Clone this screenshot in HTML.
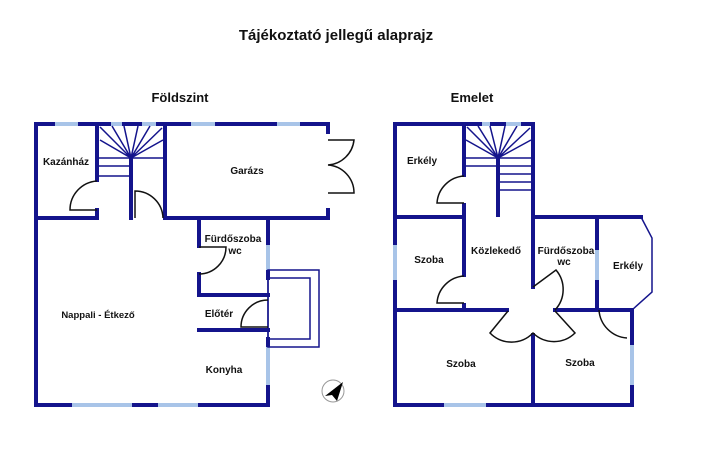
<!DOCTYPE html>
<html><head><meta charset="utf-8"><style>
html,body{margin:0;padding:0;background:#fff;width:704px;height:450px;overflow:hidden}
svg{display:block}
text{font-family:"Liberation Sans",sans-serif;font-weight:bold;fill:#111}
</style></head><body>
<svg width="704" height="450" viewBox="0 0 704 450">
<text x="336" y="40" font-size="15" text-anchor="middle">Tájékoztató jellegű alaprajz</text>
<text x="180" y="102" font-size="13" text-anchor="middle">Földszint</text>
<text x="472" y="102" font-size="13" text-anchor="middle">Emelet</text>

<!-- LEFT PLAN -->
<g stroke="#14148c" stroke-width="4" fill="none" stroke-linecap="square">
<path d="M36 124 H328 V132 M328 210 V218 H165 M36 124 V405 H268 V385 M268 347 V339 M268 278 V270 M268 245 V218"/>
<path d="M36 218 H95 M131 218 V158 M165 124 V218 M97 124 V180 M97 210 V218"/>
<path d="M199 218 V246 M199 274 V295 H268 M199 330 H268"/>
</g>
<g stroke="#a8c4e8" stroke-width="4">
<line x1="55" y1="124" x2="78" y2="124"/><line x1="111" y1="124" x2="122" y2="124"/>
<line x1="142" y1="124" x2="156" y2="124"/><line x1="191" y1="124" x2="215" y2="124"/>
<line x1="277" y1="124" x2="300" y2="124"/>
<line x1="268" y1="245" x2="268" y2="270"/><line x1="268" y1="347" x2="268" y2="385"/>
<line x1="72" y1="405" x2="132" y2="405"/><line x1="158" y1="405" x2="198" y2="405"/>
</g>
<g stroke="#14148c" stroke-width="1.5" fill="none">
<path d="M131 158 L100 127 M131 158 L112 126 M131 158 L124 126 M131 158 L138 126 M131 158 L150 126 M131 158 L162 128 M131 158 L163 140 M131 158 L100 140"/>
<path d="M97 158 H165 M97 166 H131 M97 176 H131"/>
<rect x="268" y="270" width="51" height="77"/><rect x="268" y="278" width="42" height="61"/>
</g>
<g stroke="#111" stroke-width="1.5" fill="none">
<path d="M97 181 A29 29 0 0 0 70 210 H97"/>
<path d="M135 218 V191 A28 28 0 0 1 163 218"/>
<path d="M199 247 H226 A27 27 0 0 1 199 274"/>
<path d="M268 300 A27 27 0 0 0 241 327 H268"/>
<path d="M328 140 H354 A28 28 0 0 1 328 165 A28 28 0 0 1 354 193 H328"/>
</g>
<text x="66" y="165" font-size="10" text-anchor="middle">Kazánház</text>
<text x="247" y="174" font-size="10" text-anchor="middle">Garázs</text>
<text x="233" y="242" font-size="10" text-anchor="middle">Fürdőszoba</text>
<text x="235" y="254" font-size="10" text-anchor="middle">wc</text>
<text x="98" y="318" font-size="9.5" text-anchor="middle">Nappali - Étkező</text>
<text x="219" y="317" font-size="10" text-anchor="middle">Előtér</text>
<text x="224" y="373" font-size="10" text-anchor="middle">Konyha</text>
<circle cx="333" cy="391" r="11" fill="none" stroke="#999" stroke-width="1"/>
<path d="M325 396 L343 382 L337 401 L332 395 Z" fill="#000"/>

<!-- RIGHT PLAN -->
<g stroke="#14148c" stroke-width="4" fill="none" stroke-linecap="square">
<path d="M395 124 H533 V217 H641 M395 124 V405 H632 V385 M632 345 V310"/>
<path d="M395 217 H464 M464 124 V175 M464 205 V275 M464 305 V310"/>
<path d="M395 310 H507 M555 310 H632 M533 217 V287 M533 335 V405 M597 217 V310"/>
<path d="M498 158 V215"/>
</g>
<g stroke="#14148c" stroke-width="1.5" fill="none">
<path d="M641 217 L652 238 V292 L632 310"/>
<path d="M498 158 L467 127 M498 158 L478 126 M498 158 L490 126 M498 158 L505 126 M498 158 L517 126 M498 158 L530 128 M498 158 L531 140 M498 158 L466 140"/>
<path d="M464 158 H533 M464 166 H533 M498 174 H533 M498 182 H533 M498 190 H533"/>
</g>
<g stroke="#a8c4e8" stroke-width="4">
<line x1="395" y1="245" x2="395" y2="280"/><line x1="444" y1="405" x2="486" y2="405"/>
<line x1="482" y1="124" x2="490" y2="124"/><line x1="506" y1="124" x2="521" y2="124"/>
<line x1="597" y1="250" x2="597" y2="280"/><line x1="632" y1="345" x2="632" y2="385"/>
</g>
<g stroke="#111" stroke-width="1.5" fill="none">
<path d="M464 176 A29 29 0 0 0 437 203 H464"/>
<path d="M464 276 A29 29 0 0 0 437 303 H464"/>
<path d="M533 287 L556 270 A30 30 0 0 1 555 310"/>
<path d="M508 311 L490 333 A30 30 0 0 0 533 333 A30 30 0 0 0 575 333 L555 311"/>
<path d="M599 310 A30 30 0 0 0 627 338"/>
</g>
<text x="422" y="164" font-size="10" text-anchor="middle">Erkély</text>
<text x="429" y="263" font-size="10" text-anchor="middle">Szoba</text>
<text x="496" y="254" font-size="10" text-anchor="middle">Közlekedő</text>
<text x="566" y="254" font-size="10" text-anchor="middle">Fürdőszoba</text>
<text x="564" y="265" font-size="10" text-anchor="middle">wc</text>
<text x="628" y="269" font-size="10" text-anchor="middle">Erkély</text>
<text x="461" y="367" font-size="10" text-anchor="middle">Szoba</text>
<text x="580" y="366" font-size="10" text-anchor="middle">Szoba</text>
</svg>
</body></html>
